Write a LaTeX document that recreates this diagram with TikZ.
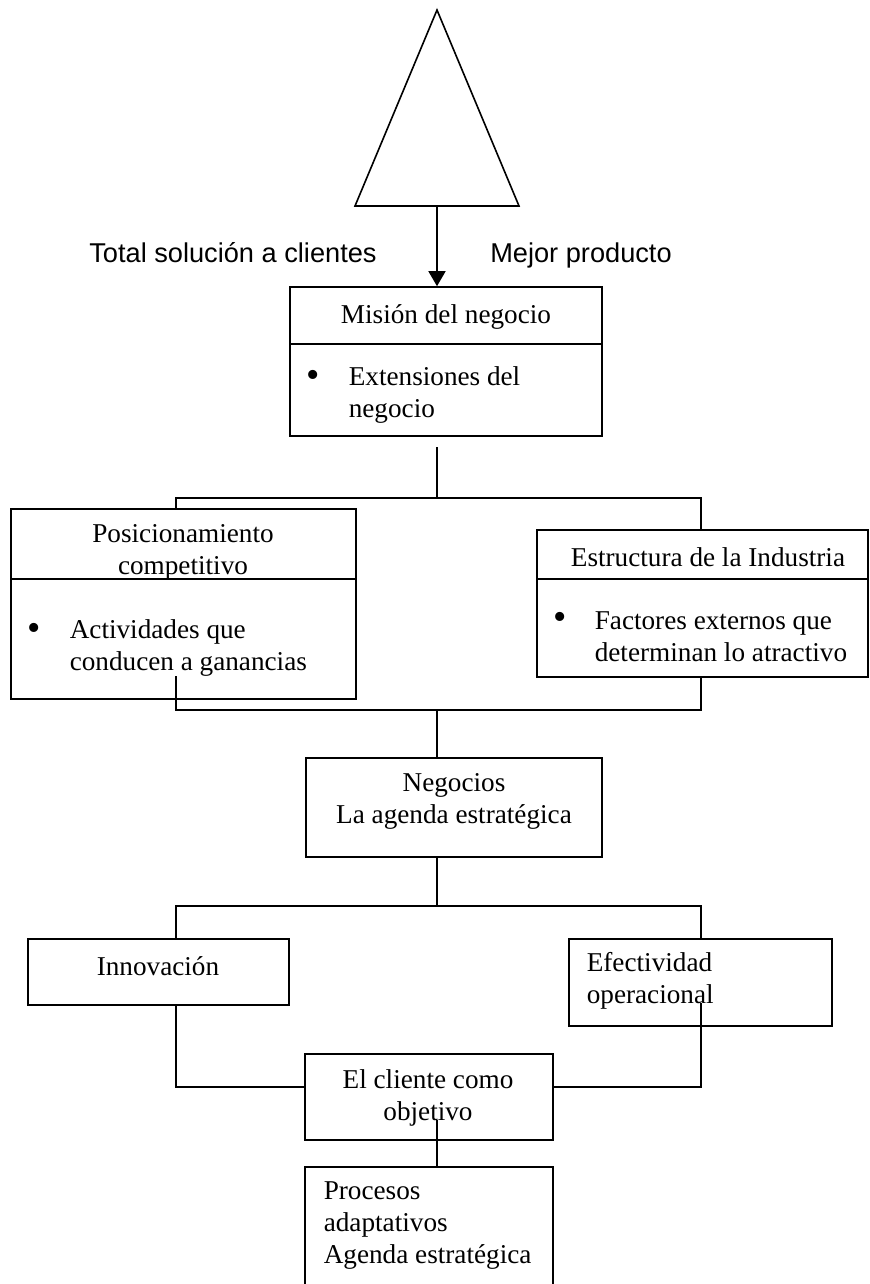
\documentclass[tikz,border=0pt]{standalone}
\usepackage{fontspec}
\setmainfont{Liberation Serif}
\newfontfamily\labelfont{Liberation Sans}
\usetikzlibrary{arrows.meta,fit}

\begin{document}
\begin{tikzpicture}[x=0.5pt,y=-0.5pt, line width=0.8pt,
  box/.style={draw, inner sep=0pt, fit={#1}},
  txt/.style={inner sep=0pt, font=\fontsize{13.6}{16}\selectfont},
  ltxt/.style={txt, align=left, anchor=west},
  ctxt/.style={txt, align=center},
  sans/.style={inner sep=0pt, anchor=base, font=\labelfont\fontsize{13.6}{16}\selectfont},
  dot/.style={inner sep=0pt, font=\fontsize{19}{19}\selectfont},
  link/.style={draw},
  flow/.style={link, -{Triangle[length=7.5pt,width=8.5pt]}}
]
\clip (0,0) rectangle (870,1284);

% top triangle and arrow into the mission box
\draw (437,10) -- (519,206) -- (355,206) -- cycle;
\coordinate (tribase) at (437,206);

\node[sans] (total) at (233,262) {Total solución a clientes};
\node[sans] (mejor) at (581,262) {Mejor producto};

% mission box
\node[box={(290,287) (602,436)}] (mision) {};
\draw (mision.west |- 0,344) -- (mision.east |- 0,344);
\node[ctxt] (misionT) at (446,317) {Misión del negocio};
\node[dot] (misionB) at (313,379) {•};
\node[ltxt] (misionL) at (348,395) {Extensiones del\\negocio};

\draw[flow] (tribase) -- (mision.north -| tribase);

% competitive positioning and industry structure
\node[box={(11,509) (356,699)}] (posic) {};
\draw (posic.west |- 0,579) -- (posic.east |- 0,579);
\node[ctxt] (posicT) at (183,552) {Posicionamiento\\competitivo};
\node[dot] (posicB) at (34,632) {•};
\node[ltxt] (posicL) at (69,648) {Actividades que\\conducen a ganancias};

\node[box={(537,530) (868,677)}] (estr) {};
\draw (estr.west |- 0,579) -- (estr.east |- 0,579);
\node[ctxt] (estrT) at (708,557) {Estructura de la Industria};
\node[dot] (estrB) at (560,621) {•};
\node[ltxt] (estrL) at (594,637) {Factores externos que\\determinan lo atractivo};

% strategic agenda
\node[box={(306,758) (602,857)}] (neg) {};
\node[ctxt] (negT) at (454,801) {Negocios\\La agenda estratégica};

% innovation and operational effectiveness
\node[box={(28,939) (289,1005)}] (innov) {};
\node[ctxt] (innovT) at (158,966) {Innovación};
\node[box={(569,939) (832,1026)}] (efec) {};
\node[ltxt] (efecT) at (586,981) {Efectividad\\operacional};

% customer as objective
\node[box={(305,1054) (553,1140)}] (cliente) {};
\node[ctxt] (clienteT) at (428,1098) {El cliente como\\objetivo};

% adaptive processes (runs past the lower edge)
\node[box={(305,1167) (553,1300)}] (proc) {};
\node[ltxt] (procT) at (323,1226) {Procesos\\adaptativos\\Agenda estratégica};

% connector junctions
\coordinate (m1) at (437,447);
\coordinate (j1) at (437,498);
\coordinate (aL) at (176,498);
\coordinate (aR) at (701,498);
\coordinate (bL) at (176,710);
\coordinate (bR) at (701,710);
\coordinate (b0) at (437,710);
\coordinate (sL) at (176,676);
\coordinate (sR) at (701,676);
\coordinate (cL) at (176,906);
\coordinate (cR) at (701,906);
\coordinate (c0) at (437,906);
\coordinate (dL) at (176,1087);
\coordinate (dR) at (701,1087);
\coordinate (eR) at (701,1003);
\coordinate (f0) at (437,1120);

% mission -> positioning / structure
\draw[link] (m1) -- (j1);
\draw[link] (posic.north -| aL) -- (aL) -- (aR) -- (estr.north -| aR);

% positioning / structure -> strategic agenda
\draw[link] (sL) -- (bL) -- (bR) -- (sR);
\draw[link] (b0) -- (neg.north -| b0);

% strategic agenda -> innovation / effectiveness
\draw[link] (neg.south -| c0) -- (c0);
\draw[link] (innov.north -| cL) -- (cL) -- (cR) -- (efec.north -| cR);

% innovation / effectiveness -> customer
\draw[link] (innov.south -| dL) -- (dL) -- (cliente.west |- dL);
\draw[link] (eR) -- (dR) -- (cliente.east |- dR);

% customer -> adaptive processes
\draw[link] (f0) -- (proc.north -| f0);
\end{tikzpicture}
\end{document}
